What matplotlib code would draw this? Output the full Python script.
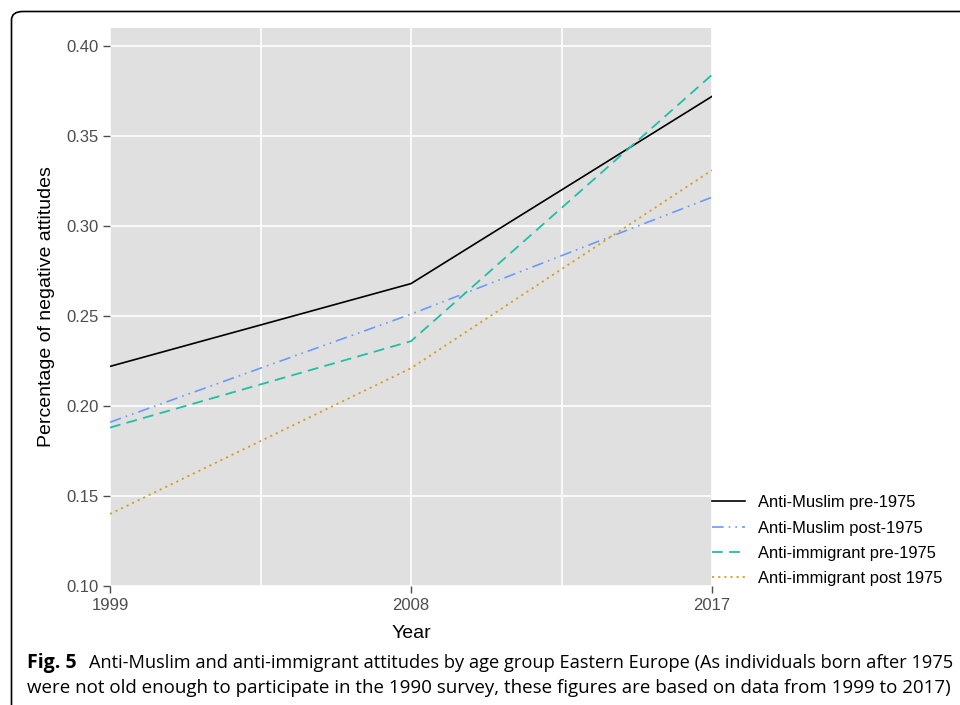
import matplotlib
matplotlib.use("Agg")
import matplotlib.pyplot as plt
from matplotlib.patches import FancyBboxPatch

years = [1999, 2008, 2017]
series_names = ["Anti-Muslim pre-1975", "Anti-Muslim post-1975",
                "Anti-immigrant pre-1975", "Anti-immigrant post 1975"]
muslim_pre = [0.222, 0.268, 0.372]
muslim_post = [0.191, 0.251, 0.316]
immig_pre = [0.188, 0.236, 0.384]
immig_post = [0.140, 0.221, 0.331]
yticks = [0.10, 0.15, 0.20, 0.25, 0.30, 0.35, 0.40]
ytick_labels = ["0.10", "0.15", "0.20", "0.25", "0.30", "0.35", "0.40"]
xticks = [1999, 2008, 2017]
xminor = [2003.5, 2012.5]

plt.rcParams['font.family'] = ['Liberation Sans', 'DejaVu Sans']

W, H = 960, 705
fig = plt.figure(figsize=(W / 100, H / 100), dpi=100)
fig.patch.set_facecolor("white")

# rounded frame
frame = FancyBboxPatch((11.5 / W, -0.05), 1.2, (H - 11.5) / H + 0.05,
                       boxstyle="round,pad=0,rounding_size=0.012",
                       transform=fig.transFigure, fill=False,
                       edgecolor="black", linewidth=1.2, clip_on=False)
fig.patches.append(frame)

ax = fig.add_axes([110 / W, (H - 586) / H, 602 / W, (586 - 28) / H])
ax.set_facecolor("#E0E0E0")
for s in ax.spines.values():
    s.set_visible(False)

ax.set_xlim(1999, 2017)
ax.set_ylim(0.10, 0.41)
ax.set_yticks(yticks)
ax.set_yticklabels(ytick_labels)
ax.set_xticks(xticks)
ax.set_xticklabels([str(x) for x in xticks])
ax.set_xticks(xminor, minor=True)
ax.tick_params(axis="both", which="major", colors="#4D4D4D", labelcolor="#4D4D4D",
               labelsize=12, length=5, width=1, direction="out", pad=3)
ax.tick_params(axis="x", which="major", pad=4)
ax.tick_params(axis="x", which="minor", length=0)
ax.grid(True, which="both", color="white", linewidth=1.2)
ax.set_axisbelow(True)

ax.plot(years, muslim_pre, color="black", linewidth=1.2, label=series_names[0])
ax.plot(years, muslim_post, color="#6B9BF7", linewidth=1.2,
        dashes=(7, 3, 1, 3, 1, 3), label=series_names[1])
ax.plot(years, immig_pre, color="#1FBFA6", linewidth=1.3,
        dashes=(6, 3.5), label=series_names[2])
ax.plot(years, immig_post, color="#D4A020", linewidth=1.3,
        dashes=(1.2, 2.2), label=series_names[3])

ax.set_xlabel("Year", fontsize=14, labelpad=8)
ax.set_ylabel("Percentage of negative attitudes", fontsize=14, labelpad=8)

handles, labels = ax.get_legend_handles_labels()
fig.legend(handles, labels, loc="lower left",
           bbox_to_anchor=(712 / W, (H - 586) / H), frameon=False,
           fontsize=11.9, handlelength=2.0, handletextpad=0.8,
           labelspacing=0.62, borderpad=0, borderaxespad=0)

cap_font = ['Open Sans', 'DejaVu Sans']
fig.text(27 / W, (H - 663) / H, "Fig. 5", fontsize=14, fontweight="bold",
         family=cap_font, va="center", ha="left")
fig.text(89 / W, (H - 663) / H,
         "Anti-Muslim and anti-immigrant attitudes by age group Eastern Europe (As individuals born after 1975",
         fontsize=13.15, family=cap_font, va="center", ha="left")
fig.text(27 / W, (H - 688) / H,
         "were not old enough to participate in the 1990 survey, these figures are based on data from 1999 to 2017)",
         fontsize=13.5, family=cap_font, va="center", ha="left")

fig.savefig("out.png", dpi=100)
